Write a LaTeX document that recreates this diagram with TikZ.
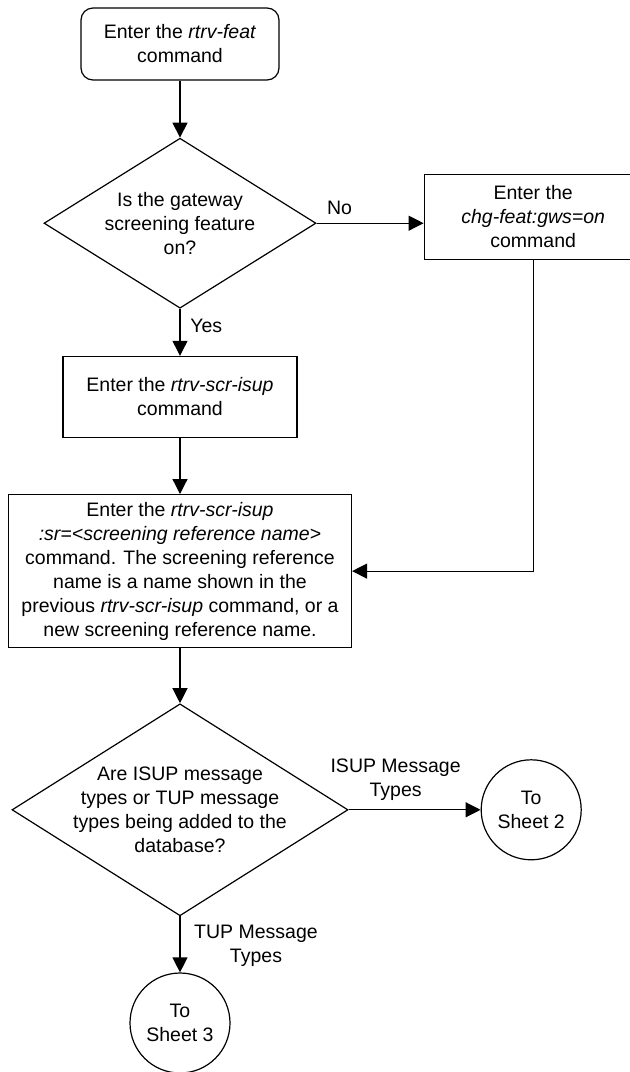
\documentclass[tikz,border=0pt]{standalone}
\usepackage{fontspec}
\setmainfont{Liberation Sans}
\usetikzlibrary{shapes.geometric, arrows.meta, positioning}

\begin{document}
\begin{tikzpicture}[
    node distance=28pt and 50pt,
    txt/.style={font=\fontsize{9.75}{12}\selectfont},
    box/.style={rectangle, draw, line width=0.6pt, align=center, inner sep=2pt, txt},
    startbox/.style={box, rounded corners=6pt, minimum width=99pt, minimum height=36pt},
    decision/.style={diamond, aspect=1.6, draw, line width=0.6pt, align=center, inner sep=0pt, txt},
    offpage/.style={circle, draw, line width=0.6pt, minimum size=50pt, inner sep=0pt, align=center, txt},
    lbl/.style={align=center, inner sep=0pt, txt},
    >={Triangle[length=7.5pt, width=7.5pt]}
]
\useasboundingbox (0,0) rectangle (314.5pt,-536pt);

\node[startbox] (start) at (90pt,-22pt) {Enter the \textit{rtrv-feat}\\command};
\node[decision, minimum width=136pt, minimum height=85pt, below=28.5pt of start] (gws) {Is the gateway\\screening feature\\on?};
\node[box, minimum width=109pt, minimum height=42.5pt, right=53.5pt of gws, yshift=3.25pt] (chg) {Enter the\\\textit{chg-feat:gws=on}\\command};
\node[box, minimum width=117pt, minimum height=40.5pt, below=23.5pt of gws] (isup) {Enter the \textit{rtrv-scr-isup}\\command};
\node[box, minimum width=171.5pt, minimum height=76.5pt, below=28pt of isup] (scr) {Enter the \textit{rtrv-scr-isup}\\\textit{:sr=<screening reference name>}\\command. The screening reference\\name is a name shown in the\\previous \textit{rtrv-scr-isup} command, or a\\new screening reference name.};
\node[decision, inner sep=-2.5pt, minimum width=168pt, minimum height=106pt, below=27.5pt of scr] (types) {Are ISUP message\\types or TUP message\\types being added to the\\database?};
\node[offpage, right=66pt of types] (sheet2) {To\\Sheet 2};
\node[offpage, below=28pt of types] (sheet3) {To\\Sheet 3};

% branch labels
\node[lbl] (no) at ([xshift=11.5pt, yshift=7.5pt]gws.east) {No};
\node[lbl, anchor=west] (yes) at ([xshift=5pt, yshift=-8.5pt]gws.south) {Yes};
\node[lbl] (isuplbl) at ([xshift=23.5pt, yshift=15pt]types.east) {ISUP Message\\Types};
\node[lbl] (tuplbl) at ([xshift=38pt, yshift=-14.5pt]types.south) {TUP Message\\Types};

\draw[line width=0.6pt, ->] (start) -- (gws);
\draw[line width=0.6pt, ->] (gws.east) -- (gws.east -| chg.west);
\draw[line width=0.6pt, ->] (gws) -- (isup);
\draw[line width=0.6pt, ->] (isup) -- (scr);
\draw[line width=0.6pt, ->] (chg.south) |- (scr.east);
\draw[line width=0.6pt, ->] (scr) -- (types);
\draw[line width=0.6pt, ->] (types) -- (sheet2);
\draw[line width=0.6pt, ->] (types) -- (sheet3);
\end{tikzpicture}
\end{document}
